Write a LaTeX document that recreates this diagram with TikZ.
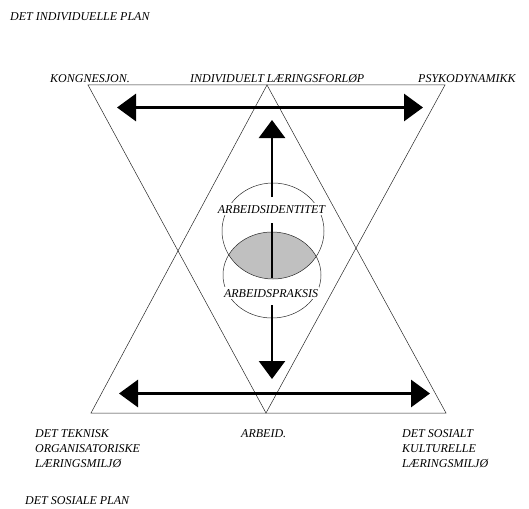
\documentclass[tikz,border=0pt]{standalone}
\usepackage{fontspec}
\setmainfont{Liberation Serif}
\usetikzlibrary{arrows.meta}
\definecolor{lensgray}{RGB}{192,192,192}
\begin{document}
\begin{tikzpicture}[x=1pt,y=-1pt,
  tri/.style={draw=black!85,line width=0.5pt},
  ring/.style={draw=black!85,line width=0.5pt},
  lbl/.style={font=\fontsize{12}{15}\selectfont\itshape,inner sep=0pt,anchor=base west},
  clbl/.style={font=\fontsize{12}{15}\selectfont\itshape,inner xsep=1pt,inner ysep=2pt,anchor=base,fill=white},
  bigarrow/.style={line width=3pt,{Triangle[length=19pt,width=27pt]}-{Triangle[length=19pt,width=27pt]}},
  varrow/.style={line width=2.5pt},
  vhead/.style={line width=2.5pt,-{Triangle[length=18pt,width=26pt]}}
]
\useasboundingbox (0,0) rectangle (529,508);

% triangles
\draw[tri] (88,85) -- (445,85) -- (266,413) -- cycle;
\draw[tri] (91,413) -- (446,413) -- (267,85) -- cycle;

% lens
\begin{scope}
  \clip (273,231) ellipse [x radius=51, y radius=48];
  \fill[lensgray] (272,275) ellipse [x radius=49, y radius=43];
\end{scope}
\draw[ring] (273,231) ellipse [x radius=51, y radius=48];
\draw[ring] (272,275) ellipse [x radius=49, y radius=43];

% horizontal arrows
\coordinate (tl) at (117,107.5);
\coordinate (tr) at (423,107.5);
\coordinate (bl) at (119,393.5);
\coordinate (br) at (430,393.5);
\draw[bigarrow] (tl) -- (tr);
\draw[bigarrow] (bl) -- (br);

% vertical arrow (three segments)
\coordinate (v1) at (272,197);
\coordinate (vt) at (272,120);
\coordinate (v2) at (272,223);
\coordinate (v3) at (272,278);
\coordinate (v4) at (272,305);
\coordinate (vb) at (272,379);
\draw[vhead] (v1) -- (vt);
\draw[varrow] (v2) -- (v3);
\draw[vhead] (v4) -- (vb);

% centre labels
\node[clbl] (ident) at (271.5,213) {ARBEIDSIDENTITET};
\node[clbl] (praks) at (271,297) {ARBEIDSPRAKSIS};

% outer labels
\node[lbl] (indplan) at (10,20.7) {DET INDIVIDUELLE PLAN};
\node[lbl] (kogn) at (50,83) {KONGNESJON.};
\node[lbl] (indlaer) at (190,83) {INDIVIDUELT LÆRINGSFORLØP};
\node[lbl] (psyk) at (418,83) {PSYKODYNAMIKK};
\node[lbl] (tek1) at (35,437) {DET TEKNISK};
\node[lbl] (tek2) at (35,452) {ORGANISATORISKE};
\node[lbl] (tek3) at (35,467) {LÆRINGSMILJØ};
\node[lbl] (arb) at (241,437) {ARBEID.};
\node[lbl] (sos1) at (402,437) {DET SOSIALT};
\node[lbl] (sos2) at (402,452) {KULTURELLE};
\node[lbl] (sos3) at (402,467) {LÆRINGSMILJØ};
\node[lbl] (sosplan) at (25,504.5) {DET SOSIALE PLAN};
\end{tikzpicture}
\end{document}
